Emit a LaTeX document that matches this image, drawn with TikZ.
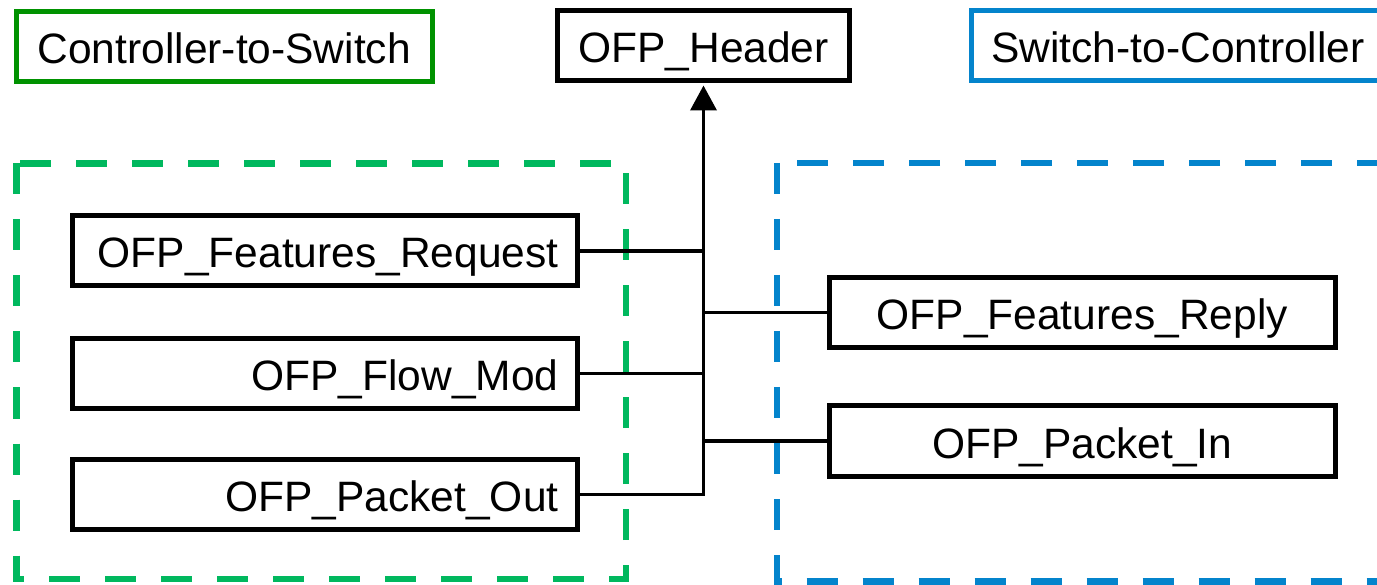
\documentclass[tikz,border=0pt]{standalone}
\usepackage{fontspec}
\setmainfont{Liberation Sans}
\usetikzlibrary{arrows.meta,calc}

\definecolor{titlegreen}{HTML}{009200}
\definecolor{groupgreen}{HTML}{00B85E}
\definecolor{groupblue}{HTML}{0484CC}

\tikzset{
  msgbox/.style={draw=black, line width=5pt, rectangle, minimum height=70pt,
    inner xsep=19pt, inner ysep=0pt, text height=38pt, text depth=4pt,
    font=\fontsize{42.5}{50}\selectfont},
  leftmsg/.style={msgbox, text width=467pt, align=right},
  rightmsg/.style={msgbox, minimum width=505.5pt},
  titlebox/.style={msgbox, minimum width=#1},
  grouprect/.style={line width=6.5pt, dash pattern=on 31pt off 25pt},
  wire/.style={draw=black, line width=3.8pt},
}

\begin{document}
\begin{tikzpicture}[x=1pt, y=-1pt]
  \useasboundingbox (0,0) rectangle (1377,585);
  \clip (0,0) rectangle (1377,585);

  % message-group frames
  \draw[grouprect, draw=groupgreen] (16.5,163.5) rectangle (626,579);
  \draw[grouprect, draw=groupblue] (777,163) rectangle (1420,581.5);

  % group titles and common header
  \node[titlebox=415.5pt, draw=titlegreen] (c2s) at (224.25,46.6) {Controller-to-Switch};
  \node[titlebox=292pt] (hdr) at (703.5,45.5) {OFP\_Header};
  \node[titlebox=414pt, draw=groupblue] (s2c) at (1178,45.5) {Switch-to-Controller};

  % controller-to-switch messages
  \node[leftmsg] (freq) at (325,250.75) {OFP\_Features\_Request};
  \node[leftmsg] (flow) at (325,373.5) {OFP\_Flow\_Mod};
  \node[leftmsg] (pout) at (325,494.5) {OFP\_Packet\_Out};

  % switch-to-controller messages
  \node[rightmsg] (frep) at (1082.25,312.5) {OFP\_Features\_Reply};
  \node[rightmsg] (pin) at (1082.25,441) {OFP\_Packet\_In};

  % shared trunk into the header
  \draw[wire, line join=miter, -{Triangle[length=25pt, width=26pt]}, shorten >=2.5pt]
    (pout.east) -| (hdr.south);
  \coordinate (jreq) at (freq.east -| hdr.south);
  \coordinate (jflow) at (flow.east -| hdr.south);
  \coordinate (jrep) at (frep.west -| hdr.south);
  \coordinate (jin) at (pin.west -| hdr.south);
  \draw[wire] (freq.east) -- (jreq);
  \draw[wire] (flow.east) -- (jflow);
  \draw[wire] (frep.west) -- (jrep);
  \draw[wire] (pin.west) -- (jin);
\end{tikzpicture}
\end{document}
